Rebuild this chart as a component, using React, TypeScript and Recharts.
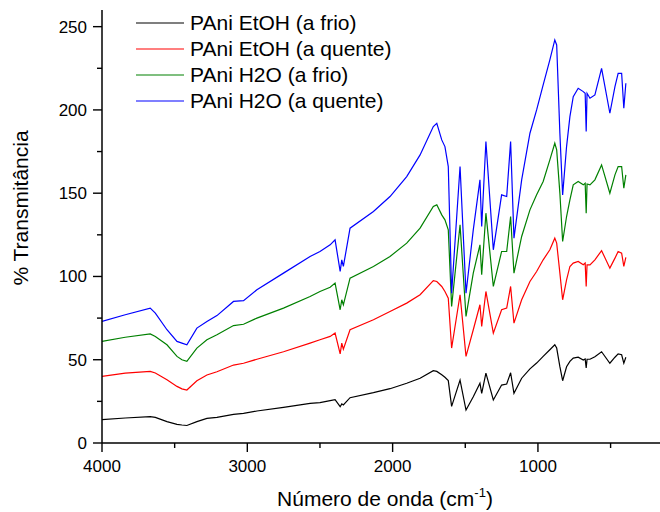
import React from 'react';
import { LineChart, Line, XAxis, YAxis, Label } from 'recharts';

// wavenumber grid (cm-1), shared by the four spectra
const wavenumber = [
  4000, 3840, 3668, 3633, 3553, 3484, 3450, 3416, 3347, 3278, 3209, 3095, 3026, 2934, 2751, 2568,
  2500, 2430, 2396, 2361, 2350, 2339, 2293, 2132, 2018, 1903, 1811, 1720, 1696, 1662, 1640, 1617,
  1594, 1536, 1495, 1445, 1399, 1387, 1358, 1307, 1250, 1215, 1188, 1165, 1112, 1055, 1009, 964,
  918, 884, 871, 849, 830, 803, 780, 757, 723, 688, 675, 668, 662, 642, 608, 562, 505, 470, 448,
  424, 409, 395,
];

const etohFrio = [
  14, 15, 15.8, 15.4, 12.8, 11.2, 10.8, 10.5, 12.8, 14.8, 15.4, 17.2, 17.8, 19.2, 21.4, 23.8,
  24.2, 25.4, 26, 21.8, 23.5, 22.8, 27.2, 30.2, 32.6, 35.9, 38.9, 43.4, 43, 41, 39.5, 37.5,
  22, 37.8, 19.8, 27.8, 35.9, 29.8, 42, 25.8, 34.8, 35.4, 42.2, 29.8, 38.9, 44.5, 48, 52,
  56, 59, 57, 45.8, 37.4, 45.8, 49, 51, 51.5, 49.8, 50.5, 45, 50.3, 50.3, 51.8, 54.8, 47.9, 51.5, 53.5,
  53, 47.9, 51.5,
];

const etohQuente = [
  40, 42, 43, 42, 38, 34, 32.5, 31.8, 37.4, 40.8, 42.8, 46.8, 47.9, 50.3, 54.8, 60,
  62, 64, 66, 53.5, 60, 56.3, 68, 74, 79, 84, 89, 97.5, 97, 94, 91, 87,
  57, 89, 52, 68, 83, 70, 91, 66, 80, 81, 94, 72, 86, 97, 103, 110,
  116, 123, 120, 102, 86, 98, 106, 108, 109, 107, 108, 94, 107, 107, 110, 115.5, 105, 111, 115,
  114, 106, 111.5,
];

const h2oFrio = [
  61, 63.5, 65.5, 64, 59, 52, 50, 49, 57, 62, 65, 70.5, 71.3, 75, 81, 88,
  91, 93.5, 96, 80, 86, 83, 99, 106, 112, 120, 129, 142, 143, 137, 134, 128,
  82, 131, 76, 102, 119, 101, 138, 94, 115, 115, 136, 102, 124, 140, 149, 157,
  170, 180, 176, 150, 121, 136, 146, 155, 157, 155, 156, 138, 155.5, 155, 158, 167, 150, 161, 166,
  166, 153, 161,
];

const h2oQuente = [
  73, 77, 81, 78, 68, 61, 60, 59, 69, 73, 76.5, 85, 85.5, 92, 102, 112,
  115, 119, 122, 103, 110, 106, 129, 139, 148, 160, 173, 190, 192, 182, 178, 166,
  90, 166, 90, 128, 158, 130, 181, 116, 149, 148, 181, 123, 158, 186, 200, 215,
  230, 242, 239, 186, 149, 178, 196, 208, 213, 211, 210, 187, 210, 207, 209, 225, 198, 214, 222,
  222, 201, 216,
];

const seriesNames = ['PAni EtOH (a frio)', 'PAni EtOH (a quente)', 'PAni H2O (a frio)', 'PAni H2O (a quente)'];
const seriesKeys = ['etohFrio', 'etohQuente', 'h2oFrio', 'h2oQuente'];
const seriesColors = ['#000000', '#ff0000', '#008000', '#0000ff'];

const xTicks = [4000, 3500, 3000, 2500, 2000, 1500, 1000, 500];
const yTicks = [0, 25, 50, 75, 100, 125, 150, 175, 200, 225, 250];

const data = wavenumber.map((w, i) => ({
  w,
  etohFrio: etohFrio[i],
  etohQuente: etohQuente[i],
  h2oFrio: h2oFrio[i],
  h2oQuente: h2oQuente[i],
}));

const FONT = '"Liberation Sans", Arial, sans-serif';

const YTick = ({ x, y, payload }: any) => {
  const major = payload.value % 50 === 0;
  return (
    <g>
      <line x1={x} x2={x - (major ? 9 : 5)} y1={y} y2={y} stroke="#000" strokeWidth={1.4} />
      {major && (
        <text x={x - 15} y={y} dy="0.35em" textAnchor="end" fontSize={17} fontFamily={FONT} fill="#000">
          {payload.value}
        </text>
      )}
    </g>
  );
};

const XTick = ({ x, y, payload }: any) => {
  const major = payload.value % 1000 === 0;
  return (
    <g>
      <line x1={x} x2={x} y1={y} y2={y + (major ? 9 : 5)} stroke="#000" strokeWidth={1.4} />
      {major && (
        <text x={x} y={y + 29} textAnchor="middle" fontSize={17} fontFamily={FONT} fill="#000">
          {payload.value}
        </text>
      )}
    </g>
  );
};

export default function App() {
  return (
    <div style={{ position: 'absolute', left: 0, top: 0, width: 660, height: 512, background: '#fff' }}>
      <LineChart width={660} height={512} data={data} margin={{ top: 10, right: 0, bottom: 0, left: 0 }}>
        <XAxis
          dataKey="w"
          type="number"
          domain={[160, 4000]}
          reversed
          allowDataOverflow
          ticks={xTicks}
          tick={<XTick />}
          tickLine={false}
          tickSize={0}
          tickMargin={0}
          height={69}
          axisLine={{ stroke: '#000', strokeWidth: 1.5 }}
        >
          <Label
            content={() => (
              <text x={385} y={506} textAnchor="middle" fontSize={21} fontFamily={FONT} fill="#000">
                <tspan>Número de onda (cm</tspan>
                <tspan dy={-9} fontSize={13}>-1</tspan>
                <tspan dy={9}>)</tspan>
              </text>
            )}
          />
        </XAxis>
        <YAxis
          type="number"
          domain={[0, 260]}
          ticks={yTicks}
          tick={<YTick />}
          tickLine={false}
          tickSize={0}
          tickMargin={0}
          width={102}
          axisLine={{ stroke: '#000', strokeWidth: 1.5 }}
        >
          <Label
            content={() => (
              <text
                x={21}
                y={208}
                transform="rotate(-90 21 208)"
                textAnchor="middle"
                dy="0.35em"
                fontSize={21}
                fontFamily={FONT}
                fill="#000"
              >
                % Transmitância
              </text>
            )}
          />
        </YAxis>
        {seriesKeys.map((k, i) => (
          <Line
            key={k}
            type="linear"
            dataKey={k}
            name={seriesNames[i]}
            stroke={seriesColors[i]}
            strokeWidth={1.2}
            dot={false}
            isAnimationActive={false}
          />
        ))}
      </LineChart>
      <svg width={660} height={512} style={{ position: 'absolute', left: 0, top: 0, pointerEvents: 'none' }}>
        {seriesNames.map((name, i) => (
          <g key={name}>
            <line x1={136} x2={184} y1={23 + i * 26} y2={23 + i * 26} stroke={seriesColors[i]} strokeWidth={1.2} />
            <text x={190} y={30 + i * 26} fontSize={21} fontFamily={FONT} fill="#000">
              {name}
            </text>
          </g>
        ))}
      </svg>
    </div>
  );
}
